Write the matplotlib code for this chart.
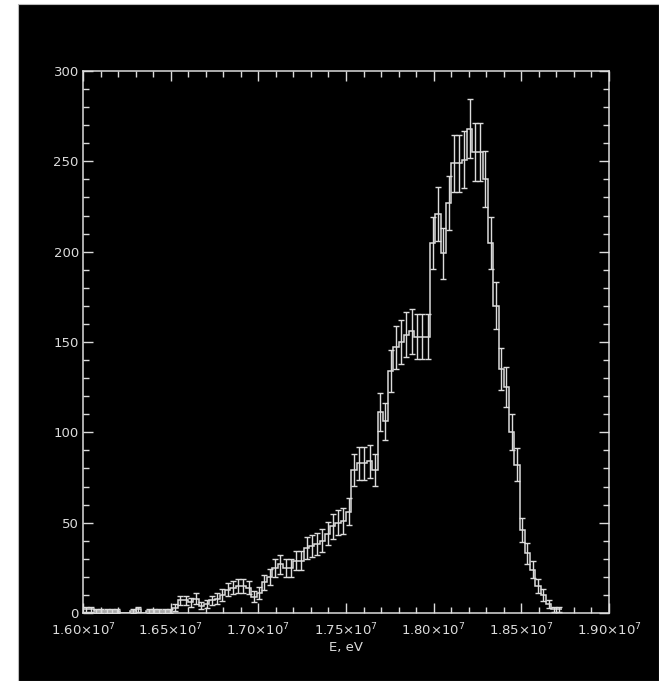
"""
Energy spectrum with Poisson error bars, IDL-style black plot.
"""

import numpy as np
import matplotlib
matplotlib.use("Agg")
import matplotlib.pyplot as plt
from matplotlib.patches import Rectangle
from matplotlib.ticker import MultipleLocator, FixedFormatter, FixedLocator

# histogram binning (eV)
bin_start = 1.600e7
bin_width = 3.0e4

counts = [
    2, 2, 1, 1, 1, 1, 1, 0, 0, 1,
    2, 0, 1, 1, 1, 1, 1, 3, 7, 7,
    6, 8, 4, 5, 7, 8, 10, 13, 14, 15,
    15, 14, 9, 11, 17, 20, 25, 27, 25, 25,
    29, 29, 36, 37, 38, 40, 44, 48, 50, 51,
    56, 79, 83, 83, 84, 79, 111, 106, 134, 147,
    150, 154, 156, 153, 153, 153, 205, 221, 199, 227,
    249, 249, 251, 268, 255, 255, 240, 205, 170, 135,
    125, 100, 82, 46, 33, 24, 15, 10, 5, 2,
    2,
]

x_ticks = [1.60e7, 1.65e7, 1.70e7, 1.75e7, 1.80e7, 1.85e7, 1.90e7]
x_tick_labels = [r"$1.60{\times}10^{7}$", r"$1.65{\times}10^{7}$", r"$1.70{\times}10^{7}$",
                 r"$1.75{\times}10^{7}$", r"$1.80{\times}10^{7}$", r"$1.85{\times}10^{7}$",
                 r"$1.90{\times}10^{7}$"]
y_ticks = [0, 50, 100, 150, 200, 250, 300]

FG = "#dcdcdc"


def main():
    plt.rcParams["mathtext.fontset"] = "dejavusans"
    fig = plt.figure(figsize=(6.59, 6.81), dpi=100, facecolor="white")

    # black plot window inside a white margin
    fig.patches.append(Rectangle((18 / 659, 0), 1 - 18 / 659, 1 - 4 / 681,
                                 transform=fig.transFigure, facecolor="black",
                                 edgecolor="#bbbbbb", linewidth=0.8, zorder=-5))

    ax = fig.add_axes([83 / 659, 68 / 681, 526 / 659, 542 / 681])
    ax.set_facecolor("black")

    y = np.array(counts, dtype=float)
    edges = bin_start + bin_width * np.arange(len(y) + 1)
    centers = 0.5 * (edges[:-1] + edges[1:])
    err = np.sqrt(y)

    ax.stairs(y, edges, color=FG, linewidth=1.1, baseline=None)
    ok = y > 0
    ax.errorbar(centers[ok], y[ok], yerr=err[ok], fmt="none", ecolor=FG,
                elinewidth=1.0, capsize=2.5, capthick=1.0)

    ax.set_xlim(1.60e7, 1.90e7)
    ax.set_ylim(0, 300)

    ax.xaxis.set_major_locator(FixedLocator(x_ticks))
    ax.xaxis.set_major_formatter(FixedFormatter(x_tick_labels))
    ax.xaxis.set_minor_locator(MultipleLocator(1e5))
    ax.set_yticks(y_ticks)
    ax.yaxis.set_minor_locator(MultipleLocator(10))

    ax.tick_params(which="both", direction="in", colors=FG, top=True, right=True,
                   labelsize=9.5, width=1.0)
    ax.tick_params(which="major", length=7.5)
    ax.tick_params(which="minor", length=4)
    ax.tick_params(axis="x", pad=6)
    ax.tick_params(axis="y", pad=3)
    for spine in ax.spines.values():
        spine.set_color(FG)
        spine.set_linewidth(1.1)

    ax.set_xlabel("E, eV", color=FG, fontsize=9.5, labelpad=2)

    fig.savefig("out.png", dpi=100, facecolor="white")
    plt.close(fig)


if __name__ == "__main__":
    main()
